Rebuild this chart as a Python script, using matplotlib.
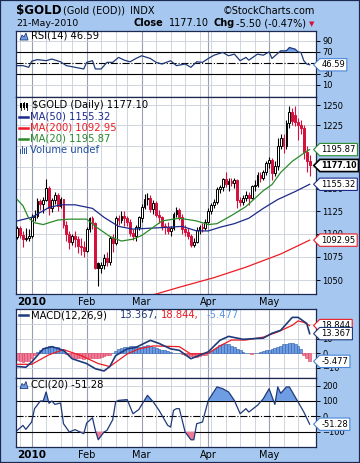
import matplotlib
matplotlib.use('Agg')
import matplotlib.pyplot as plt
import matplotlib.transforms as mtransforms
from matplotlib.path import Path
from matplotlib.patches import Rectangle, Polygon
from matplotlib.lines import Line2D
from matplotlib.ticker import FixedLocator, FuncFormatter, NullLocator
import numpy as np
import pandas as pd

# Trading calendar (gold EOD), 24-Dec-2009 .. 21-May-2010
holidays = ['2009-12-25', '2010-01-01', '2010-01-18', '2010-02-15', '2010-04-02']
dates = pd.bdate_range('2009-12-24', '2010-05-21')
dates = dates[~dates.isin(pd.to_datetime(holidays))]

opens = [1096, 1106, 1099, 1094, 1095, 1097, 1118, 1119, 1136, 1133,
         1137, 1151, 1128, 1137, 1143, 1131, 1139, 1110, 1100, 1091,
         1097, 1094, 1087, 1085, 1081, 1105, 1117, 1112, 1068, 1063,
         1066, 1074, 1070, 1095, 1090, 1117, 1115, 1120, 1117, 1113,
         1101, 1097, 1107, 1117, 1130, 1138, 1140, 1127, 1134, 1121,
         1118, 1108, 1107, 1103, 1106, 1122, 1126, 1118, 1105, 1102,
         1098, 1088, 1091, 1104, 1107, 1106, 1113, 1125, 1132, 1135,
         1150, 1152, 1161, 1156, 1159, 1157, 1160, 1137, 1135, 1140,
         1143, 1140, 1153, 1155, 1166, 1162, 1170, 1180, 1184, 1168,
         1177, 1200, 1210, 1200, 1228, 1241, 1238, 1229, 1226, 1222,
         1193, 1182]
highs = [1108, 1108, 1103, 1106, 1105, 1122, 1126, 1140, 1139, 1141,
         1161, 1153, 1140, 1147, 1145, 1141, 1139, 1114, 1103, 1100,
         1103, 1097, 1095, 1092, 1107, 1118, 1119, 1113, 1070, 1070,
         1078, 1080, 1098, 1100, 1120, 1121, 1125, 1125, 1120, 1116,
         1105, 1110, 1120, 1133, 1144, 1145, 1143, 1137, 1136, 1126,
         1120, 1112, 1113, 1108, 1124, 1129, 1128, 1122, 1110, 1106,
         1100, 1095, 1107, 1110, 1112, 1116, 1128, 1134, 1138, 1152,
         1155, 1163, 1169, 1162, 1163, 1162, 1161, 1141, 1143, 1148,
         1147, 1155, 1160, 1170, 1170, 1172, 1182, 1187, 1186, 1182,
         1210, 1214, 1214, 1232, 1249, 1246, 1249, 1234, 1231, 1225,
         1200, 1190]
lows = [1094, 1095, 1086, 1092, 1092, 1095, 1114, 1117, 1126, 1123,
        1136, 1121, 1124, 1133, 1125, 1128, 1106, 1092, 1083, 1088,
        1086, 1079, 1077, 1075, 1080, 1102, 1105, 1062, 1044, 1058,
        1062, 1065, 1066, 1080, 1088, 1109, 1112, 1108, 1108, 1098,
        1093, 1092, 1104, 1113, 1127, 1132, 1124, 1122, 1118, 1112,
        1104, 1100, 1100, 1097, 1104, 1118, 1115, 1100, 1098, 1094,
        1085, 1085, 1090, 1100, 1102, 1104, 1112, 1122, 1128, 1133,
        1145, 1148, 1152, 1148, 1153, 1151, 1128, 1131, 1132, 1136,
        1132, 1138, 1148, 1152, 1158, 1160, 1166, 1174, 1160, 1165,
        1172, 1196, 1192, 1197, 1222, 1225, 1224, 1207, 1215, 1185,
        1170, 1165]
closes = [1106, 1099, 1094, 1095, 1097, 1118, 1119, 1136, 1133, 1137,
          1151, 1128, 1137, 1143, 1131, 1139, 1110, 1100, 1091, 1097,
          1094, 1087, 1085, 1081, 1105, 1117, 1112, 1063, 1063, 1066,
          1074, 1070, 1095, 1090, 1117, 1115, 1120, 1117, 1113, 1101,
          1097, 1107, 1118, 1130, 1138, 1140, 1127, 1134, 1121, 1118,
          1108, 1107, 1103, 1106, 1122, 1126, 1118, 1105, 1102, 1098,
          1088, 1091, 1104, 1107, 1106, 1113, 1125, 1132, 1135, 1150,
          1152, 1161, 1156, 1159, 1157, 1160, 1137, 1135, 1140, 1143,
          1140, 1153, 1155, 1166, 1162, 1170, 1180, 1184, 1168, 1177,
          1200, 1210, 1200, 1228, 1241, 1230, 1229, 1226, 1222, 1193,
          1182.6, 1177.1]

# Moving averages, read at sample bars
ma50_at = [0, 5, 11, 15, 20, 26, 30, 35, 40, 46, 52, 57, 62, 66, 70, 75, 80, 85, 90, 96, 101]
ma50 = [1114, 1118, 1129, 1132, 1132, 1128, 1118, 1108, 1105, 1106, 1107, 1108, 1103, 1103,
        1107, 1111, 1117, 1128, 1138, 1147, 1155.32]
ma20_at = [0, 2, 4, 6, 9, 14, 18, 24, 27, 32, 36, 40, 43, 47, 50, 56, 62, 66, 69, 74, 79, 85,
           88, 91, 95, 100, 101]
ma20 = [1138, 1131, 1117, 1112, 1110, 1115, 1116, 1116, 1108, 1097, 1092, 1094, 1098, 1107,
        1114, 1117, 1114, 1110, 1111, 1120, 1130, 1148, 1155, 1169, 1182, 1194, 1195.87]
ma200_at = [45, 48, 56, 68, 79, 91, 101]
ma200 = [1034, 1036, 1043, 1053, 1064, 1078, 1092.95]

rsi_at = [0, 2, 4, 5, 7, 10, 12, 15, 17, 20, 23, 24, 26, 27, 29, 31, 33, 35, 37, 39, 41, 43,
          46, 48, 50, 53, 55, 58, 60, 62, 64, 66, 68, 71, 73, 75, 77, 79, 80, 83, 85, 87, 88,
          91, 93, 94, 96, 97, 98, 99, 100, 101]
rsi = [45, 45, 42, 53, 56, 54, 57, 52, 45, 42, 39, 51, 54, 39, 39, 51, 51, 60, 55, 52, 58, 63,
       58, 51, 48, 54, 45, 48, 42, 52, 51, 58, 64, 69, 63, 66, 54, 60, 55, 66, 64, 70, 58,
       72, 72, 78, 75, 70, 69, 54, 48, 46.59]

macd_at = [0, 3, 5, 9, 12, 16, 19, 24, 27, 30, 32, 34, 38, 41, 46, 49, 53, 56, 60, 66, 70, 73,
           78, 82, 85, 88, 91, 95, 97, 100, 101]
macd = [-9, -9.5, -6, 3, 4.5, 2, -3.7, -7, -10.5, -12, -9, -1.6, 3, 4, 8.8, 6.7, 3, 2, -3.7,
        1, 8.8, 11.5, 9.5, 10, 10.3, 13.6, 15.6, 24.4, 24.4, 20.3, 13.367]
signal_at = [0, 5, 11, 16, 22, 28, 32, 38, 42, 47, 56, 60, 66, 70, 74, 79, 85, 90, 95, 97, 99, 101]
signal = [-7.5, -7.5, -1, 2.5, -1.5, -7, -9, -0.5, 3, 5, 4.5, -0.5, 0, 5, 9, 9, 11, 14.5, 19,
          22, 21, 18.844]
hist = [-4.5, -5.5, -6, -5.5, -5, -3,
        -1, 1, 2.5, 3.5, 4.5, 5, 5, 4.5, 4, 3, 1.5,
        -0.5, -1.5, -2.5, -3, -3.5, -3.5, -4, -3.5, -3, -3, -3.5, -3, -2.5, -2, -1.5, -1, 0,
        1.5, 3, 3.5, 4, 4.5, 5, 5, 5, 4.5, 4.5, 5, 5.5, 5, 4, 3.5, 3,
        2.5, 2, 1.5, 1, 0.5, 0.5, 0,
        -0.5, -1, -1.5, -2, -2.5, -2.5, -2, -1.5, -1, 0,
        1.5, 3, 4.5, 5.5, 6.5, 6.5, 6, 5, 4, 3, 2,
        1, 0.5, 0, -0.5, 0, 0.5, 1,
        1.5, 2, 2.5, 3, 3.5, 4.5, 5, 6, 6.5, 7, 7, 6.5, 5, 3,
        -1, -3.5, -5.477]

cci_at = [0, 2, 3, 5, 6, 8, 9, 10, 11, 12, 13, 15, 16, 18, 20, 23, 24, 26, 27, 28, 30, 31, 33,
          34, 35, 38, 40, 42, 45, 47, 49, 52, 53, 54, 55, 56, 58, 60, 61, 62, 64, 66, 69, 71,
          73, 75, 77, 79, 80, 83, 85, 87, 89, 90, 91, 93, 94, 97, 99, 101]
cci = [-92, -59, -85, -37, 50, 100, 100, 159, 85, 100, 78, 87, -48, -102, -87, -113, -44, -9,
       -92, -153, -102, -92, -22, 94, 104, 109, 17, 44, 137, 94, 39, -59, -70, 39, 50, 50, -102,
       -153, -153, -48, -37, 104, 192, 180, 159, 104, 17, 50, 28, 72, 115, 180, 78, 192, 150,
       192, 192, 94, 28, -51.28]

W, H = 360, 463
BG = '#a6c8f0'
NAVY = '#1f3a7a'
FRAME = '#1b2850'
GRID = '#c9cdd8'
MONTH_GRID = '#98a0b2'
CANDLE_RED = '#d4103c'
MA50_C = '#1c2a8c'
MA20_C = '#2a8a2a'
MA200_C = '#ec1c24'
LIGHT_BLUE = '#6f9de4'
PINK = '#f07a96'
TICK_SIZE = 6
LABEL_SIZE = 7.2


def fx(x):
    return x / W


def fy(y):
    return 1 - y / H


def panel(fig, x0, y0, x1, y1):
    ax = fig.add_axes([fx(x0), fy(y1), (x1 - x0) / W, (y1 - y0) / H])
    ax.set_facecolor('white')
    for s in ax.spines.values():
        s.set_color(FRAME)
        s.set_linewidth(0.9)
    ax.set_xlim(-0.4, 103.2)
    ax.yaxis.tick_right()
    ax.tick_params(axis='y', direction='out', length=3, width=0.7, pad=1.5,
                   labelsize=TICK_SIZE, colors='black')
    ax.tick_params(axis='x', length=0, labelbottom=False)
    ax.yaxis.set_minor_locator(NullLocator())
    return ax


def tag_shape(x0, y0, width, height, mutation_size):
    pad = 0.2 * mutation_size
    x0, y0 = x0 - pad, y0 - pad
    w, h = width + 2 * pad, height + 2 * pad
    verts = [(x0, y0), (x0 + w, y0), (x0 + w, y0 + h), (x0, y0 + h),
             (x0 - 0.5 * h, y0 + h / 2), (x0, y0)]
    codes = [Path.MOVETO] + [Path.LINETO] * 4 + [Path.CLOSEPOLY]
    return Path(verts, codes)


def tag(ax, y, text, edge, bold=False, lw=0.8):
    trans = mtransforms.blended_transform_factory(ax.transAxes, ax.transData)
    ax.text(1.018, y, text, transform=trans, ha='left', va='center',
            fontsize=5.7 if bold else 6, fontweight='bold' if bold else 'normal',
            clip_on=False, zorder=10,
            bbox=dict(boxstyle=tag_shape, fc='white', ec=edge, lw=lw))


def grids(ax, hlines):
    for d in week_starts:
        ax.axvline(d, color=GRID, lw=0.6, zorder=0)
    for d in month_starts:
        ax.axvline(d, color=MONTH_GRID, lw=0.8, zorder=0)
    for v in hlines:
        ax.axhline(v, color=GRID, lw=0.6, zorder=0)


def month_labels(ax, ypx_below):
    trans = mtransforms.blended_transform_factory(ax.transData, ax.transAxes)
    h = ax.get_position().height * H
    for d, lab in zip(month_starts, month_names):
        ax.text(d, -ypx_below / h, lab, transform=trans, ha='center', va='center',
                fontsize=7 if lab != '2010' else 7.5,
                fontweight='bold' if lab == '2010' else 'normal', clip_on=False)


def icon(fig, x, y, kind):
    if kind == 'mountain':
        pts = [(x, y + 4), (x + 2, y - 1), (x + 4, y + 1), (x + 6, y - 3), (x + 8, y + 4)]
        fig.add_artist(Polygon([(fx(a), fy(b)) for a, b in pts], closed=True,
                               fc=LIGHT_BLUE, ec=NAVY, lw=0.6, transform=fig.transFigure))
    elif kind == 'bars':
        for k, hgt in enumerate([5, 8, 6, 7]):
            fig.add_artist(Rectangle((fx(x + 2 * k), fy(y + 4)), 1.4 / W, hgt / H,
                                     fc='#2c5aa8', ec='none', transform=fig.transFigure))
    elif kind == 'candles':
        for k, (lo, hi) in enumerate([(-3, 4), (-4, 3), (-2, 4)]):
            fig.add_artist(Line2D([fx(x + 1 + 3 * k)] * 2, [fy(y + hi), fy(y + lo)],
                                  color='black', lw=0.6, transform=fig.transFigure))
            fig.add_artist(Rectangle((fx(x + 3 * k), fy(y + 2)), 2 / W, 4 / H,
                                     fc='black', ec='none', transform=fig.transFigure))
    else:
        fig.add_artist(Line2D([fx(x), fx(x + 9)], [fy(y), fy(y)], color=kind, lw=1.8,
                              transform=fig.transFigure))


idx = np.arange(len(dates))
month_starts = [i for i in idx if i == 0 or dates[i].month != dates[i - 1].month][1:]
month_names = ['2010', 'Feb', 'Mar', 'Apr', 'May']
week_starts = [i for i in idx[1:] if dates[i].isocalendar()[1] != dates[i - 1].isocalendar()[1]]

fig = plt.figure(figsize=(W / 100, H / 100), dpi=100, facecolor=BG)
fig.add_artist(Rectangle((0, 0), 1, 1, fill=False, ec=FRAME, lw=1.6, transform=fig.transFigure))

# Header
fig.text(fx(16), fy(10.5), '$GOLD', fontsize=8.6, fontweight='bold', va='center')
fig.text(fx(63), fy(10.5), '(Gold (EOD))', fontsize=7, va='center')
fig.text(fx(130), fy(10.5), 'INDX', fontsize=7, va='center')
fig.text(fx(315), fy(10.5), '\u00a9StockCharts.com', fontsize=7, va='center', ha='right')
fig.text(fx(16), fy(23.5), '21-May-2010', fontsize=6.8, va='center')
fig.text(fx(134), fy(23.5), 'Close', fontsize=7, fontweight='bold', va='center')
fig.text(fx(169), fy(23.5), '1177.10', fontsize=7, va='center')
fig.text(fx(214), fy(23.5), 'Chg', fontsize=7, fontweight='bold', va='center')
fig.text(fx(236), fy(23.5), '-5.50 (-0.47%)', fontsize=7, va='center')
fig.text(fx(309), fy(24), '\u25bc', fontsize=5, color=CANDLE_RED, va='center')

# RSI panel
ax_rsi = panel(fig, 16, 31, 316, 97)
ax_rsi.set_ylim(-12, 108)
grids(ax_rsi, [10, 90])
ax_rsi.axhline(70, color='black', lw=0.8, zorder=1)
ax_rsi.axhline(30, color='black', lw=0.8, zorder=1)
ax_rsi.axhline(50, color='black', lw=0.8, ls='-.', zorder=1)
rsi_arr = np.array(rsi)
ax_rsi.fill_between(rsi_at, rsi_arr, 70, where=rsi_arr >= 70, interpolate=True,
                    color=LIGHT_BLUE, lw=0, zorder=2)
ax_rsi.plot(rsi_at, rsi, color=NAVY, lw=0.9, zorder=3)
ax_rsi.yaxis.set_major_locator(FixedLocator([10, 30, 70, 90]))
tag(ax_rsi, rsi[-1], '46.59', '#4a86d8')
fig.text(fx(31), fy(36), 'RSI(14) 46.59', fontsize=LABEL_SIZE, va='center')
icon(fig, 20, 36, 'mountain')

# Price panel
ax_p = panel(fig, 16, 97, 316, 294)
ax_p.set_yscale('log')
ax_p.set_ylim(1036, 1260)
price_ticks = [1050, 1075, 1100, 1125, 1150, 1175, 1200, 1225, 1250]
ax_p.yaxis.set_major_locator(FixedLocator([t for t in price_ticks if t != 1175]))
ax_p.yaxis.set_major_formatter(FuncFormatter(lambda v, p: '%d' % v))
ax_p.yaxis.set_minor_locator(NullLocator())
ax_p.yaxis.set_minor_formatter(FuncFormatter(lambda v, p: ''))
grids(ax_p, price_ticks)
prev = [opens[0]] + closes[:-1]
for i in idx:
    o, h, l, c = opens[i], highs[i], lows[i], closes[i]
    col = CANDLE_RED if c < prev[i] else 'black'
    face = col if c < o else 'white'
    ax_p.vlines(i, l, h, color=col, lw=0.8, zorder=3)
    lo, hi = min(o, c), max(o, c)
    if hi - lo < 0.8:
        hi = lo + 0.8
    ax_p.bar(i, hi - lo, bottom=lo, width=0.62, color=face, edgecolor=col, lw=0.7, zorder=4)
ax_p.plot(ma200_at, ma200, color=MA200_C, lw=0.9, zorder=5)
ax_p.plot(ma50_at, ma50, color=MA50_C, lw=0.9, zorder=5)
ax_p.plot(ma20_at, ma20, color=MA20_C, lw=0.9, zorder=5)
tag(ax_p, 1195.87, '1195.87', MA20_C)
tag(ax_p, 1177.10, '1177.10', 'black', bold=True, lw=1.2)
tag(ax_p, 1155.32, '1155.32', MA50_C)
tag(ax_p, 1092.95, '1092.95', MA200_C)
month_labels(ax_p, 8)

fig.text(fx(32), fy(105.5), '$GOLD (Daily) 1177.10', fontsize=LABEL_SIZE, va='center')
icon(fig, 20, 105.5, 'candles')
legend_rows = [('MA(50) 1155.32', MA50_C, 116.5), ('MA(200) 1092.95', MA200_C, 127.5),
               ('MA(20) 1195.87', MA20_C, 138.5)]
for text, col, ypx in legend_rows:
    icon(fig, 19, ypx, col)
    fig.text(fx(29.5), fy(ypx), text, fontsize=LABEL_SIZE, color=col, va='center')
icon(fig, 20, 149.5, 'bars')
fig.text(fx(29.5), fy(149.5), 'Volume undef', fontsize=LABEL_SIZE, color='#1f4fa0',
         va='center')

# MACD panel
ax_m = panel(fig, 16, 309, 316, 378)
ax_m.set_ylim(-16.8, 30.1)
grids(ax_m, [-10, 0, 10, 20])
hist_arr = np.array(hist)
pos = hist_arr >= 0
ax_m.bar(idx[pos], hist_arr[pos], width=1.0, color=LIGHT_BLUE, edgecolor='#2f5fa8',
         lw=0.4, zorder=2)
ax_m.bar(idx[~pos], hist_arr[~pos], width=1.0, color=PINK, edgecolor='#d8405e',
         lw=0.4, zorder=2)
ax_m.plot(signal_at, signal, color=MA200_C, lw=0.9, zorder=3)
ax_m.plot(macd_at, macd, color=NAVY, lw=1.2, zorder=4)
ax_m.yaxis.set_major_locator(FixedLocator([-10, 0, 10]))
tag(ax_m, 18.844, '18.844', MA200_C)
tag(ax_m, 13.367, '13.367', NAVY)
tag(ax_m, -5.477, '-5.477', '#4a86d8')
icon(fig, 19, 315, NAVY)
fig.text(fx(31), fy(315), 'MACD(12,26,9)', fontsize=LABEL_SIZE, va='center')
fig.text(fx(120), fy(315), '13.367,', fontsize=LABEL_SIZE, color=NAVY, va='center')
fig.text(fx(161), fy(315), '18.844,', fontsize=LABEL_SIZE, color=MA200_C, va='center')
fig.text(fx(207), fy(315), '-5.477', fontsize=LABEL_SIZE, color='#5a96e8', va='center')

# CCI panel
ax_c = panel(fig, 16, 378, 316, 447)
ax_c.set_ylim(-200, 250)
grids(ax_c, [200, -200])
ax_c.axhline(100, color='black', lw=0.8, zorder=1)
ax_c.axhline(-100, color='black', lw=0.8, zorder=1)
ax_c.axhline(0, color='black', lw=0.8, ls='-.', zorder=1)
cci_arr = np.array(cci)
ax_c.fill_between(cci_at, cci_arr, 100, where=cci_arr >= 100, interpolate=True,
                  color=LIGHT_BLUE, lw=0, zorder=2)
ax_c.fill_between(cci_at, cci_arr, -100, where=cci_arr <= -100, interpolate=True,
                  color=PINK, lw=0, zorder=2)
ax_c.plot(cci_at, cci, color=NAVY, lw=0.9, zorder=3)
ax_c.yaxis.set_major_locator(FixedLocator([-100, 0, 100, 200]))
tag(ax_c, -51.28, '-51.28', '#4a86d8')
icon(fig, 20, 384.5, 'mountain')
fig.text(fx(31), fy(384.5), 'CCI(20) -51.28', fontsize=LABEL_SIZE, va='center')
month_labels(ax_c, 8)

fig.savefig('out.png', dpi=100, facecolor=BG)
